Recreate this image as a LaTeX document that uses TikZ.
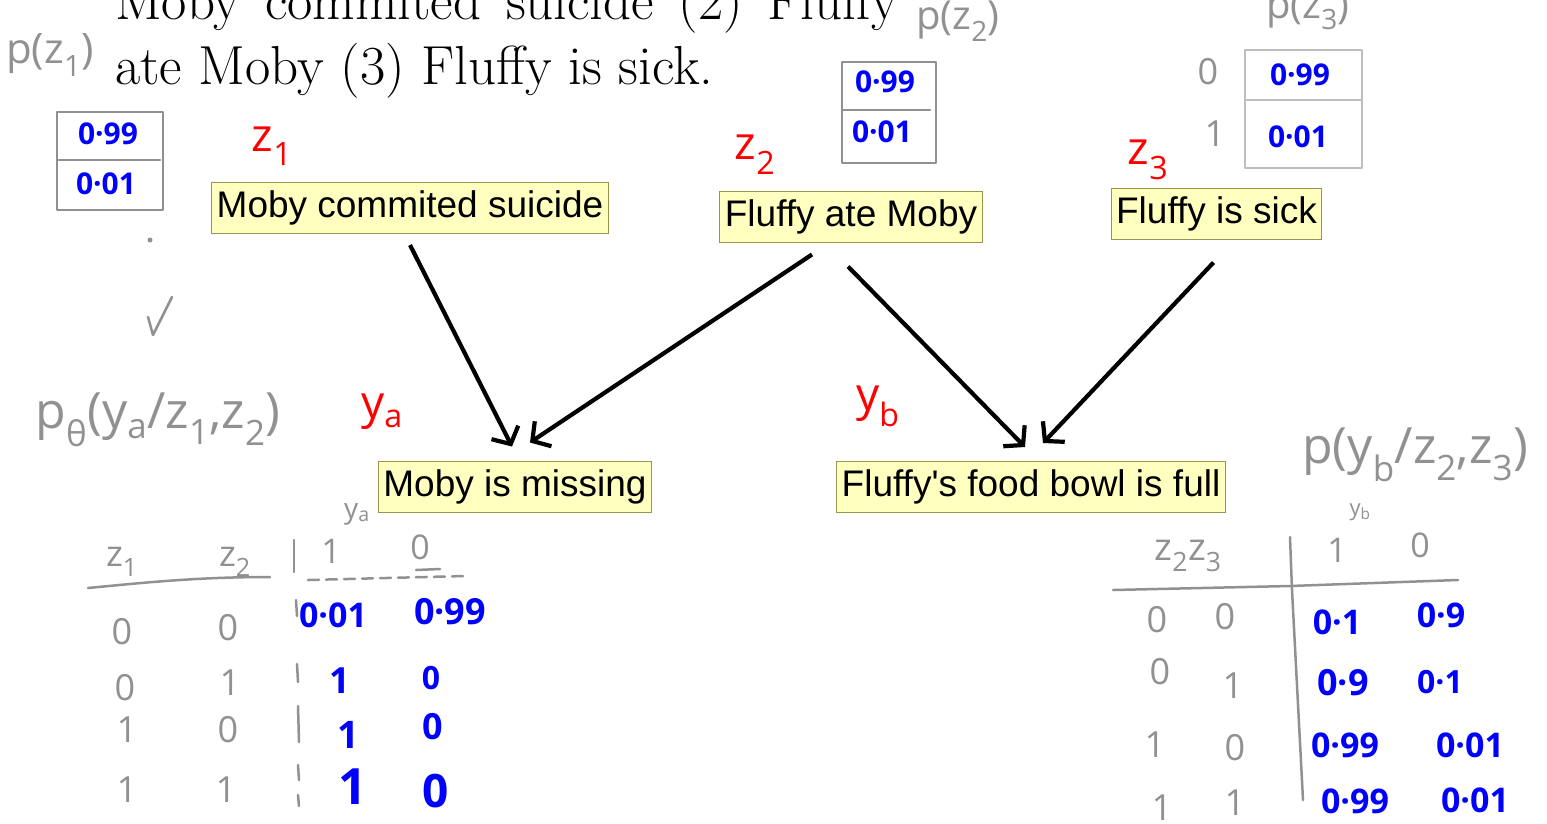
\documentclass[tikz,border=0pt]{standalone}
\usepackage{fontspec}
\newfontfamily\nodefont{Liberation Sans}
\newfontfamily\handfont{Open Sans}
\usetikzlibrary{arrows.meta,calc}
\definecolor{boxfill}{RGB}{255,255,192}
\definecolor{boxborder}{RGB}{150,150,80}
\definecolor{hgray}{RGB}{145,145,145}
\definecolor{lgray}{RGB}{190,190,190}
\definecolor{hblue}{RGB}{0,0,255}
\definecolor{hred}{RGB}{255,0,0}
\tikzset{
  concept/.style={draw=boxborder, fill=boxfill, line width=1pt,
    font=\nodefont\fontsize{37}{40}\selectfont, inner xsep=5pt, inner ysep=0pt,
    minimum height=51pt, text height=27pt, text depth=8pt},
  link/.style={line width=4.2pt, -{Straight Barb[length=13pt,width=30pt]}},
  hand/.style={text=hgray, inner sep=0pt, font=\handfont\fontsize{#1}{#1}\selectfont},
  hand/.default=36,
  bval/.style={text=hblue, inner sep=0pt, font=\handfont\bfseries\fontsize{#1}{#1}\selectfont},
  bval/.default=30,
  rlab/.style={text=hred, inner sep=0pt, font=\handfont\fontsize{46}{46}\selectfont},
  pen/.style={draw=hgray, line width=2.5pt, line cap=round, line join=round},
}
\begin{document}
\begin{tikzpicture}[x=1pt,y=-1pt]
\useasboundingbox (0,0) rectangle (1547,823);
\fill[white] (0,0) rectangle (1547,823);

% title text
\node[anchor=base west, inner sep=0pt, font=\fontsize{55}{55}\selectfont] (l1) at (115,19)
  {\makebox[783pt][s]{Moby commited suicide (2) Fluffy}};
\node[anchor=base west, inner sep=0pt, font=\fontsize{55}{55}\selectfont] (l2) at (115,84)
  {ate Moby (3) Fluffy is sick.};

% concept nodes
\node[concept] (mcs) at (410,208) {Moby commited suicide};
\node[concept] (fam) at (851,216.5) {Fluffy ate Moby};
\node[concept] (fis) at (1216.5,213.5) {Fluffy is sick};
\node[concept] (mim) at (515,486.5) {Moby is missing};
\node[concept] (ffb) at (1031,487) {Fluffy\textquotesingle s food bowl is full};

% arrows
\draw[link] ($(mcs.south)+(0,11)$) -- ($(mim.north)+(-3,-14)$);
\draw[link] ($(fam.south)+(-39,12)$) -- ($(mim.north)+(15,-18)$);
\draw[link] ($(fam.south)+(-3,24)$) -- ($(ffb.north)+(-6,-14)$);
\draw[link] ($(fis.south)+(-3,23)$) -- ($(ffb.north)+(12,-18)$);

% red labels
\node[rlab] (rz1) at (272,146) {z\textsubscript{1}};
\node[rlab] (rz2) at (755,155) {z\textsubscript{2}};
\node[rlab] (rz3) at (1148,160) {z\textsubscript{3}};
\node[rlab] (rya) at (382,412) {y\textsubscript{a}};
\node[rlab] (ryb) at (878,406) {y\textsubscript{b}};

% p(z1)
\node[hand=42] (pz1) at (50,55) {p(z\textsubscript{1})};
\draw[pen] (57,112) rectangle (163,210);
\draw[pen] (57,160) -- (160,160);
\node[bval] (z1a) at (108,134) {0·99};
\node[bval] (z1b) at (106,184) {0·01};
\fill[hgray] (150,240) circle (2.5);
\draw[pen] (172,297) -- (153,335) -- (148,317);

% p(z2)
\node[hand=40] (pz2) at (958,21) {p(z\textsubscript{2})};
\draw[pen] (842,62) rectangle (936,163);
\draw[pen] (842,110) -- (930,110);
\node[bval] (z2a) at (885,82) {0·99};
\node[bval] (z2b) at (882,132) {0·01};

% p(z3)
\node[hand=40] (pz3) at (1308,10) {p(z\textsubscript{3})};
\draw[pen, draw=lgray] (1245,50) rectangle (1362,168);
\draw[pen, draw=lgray] (1245,100) -- (1362,100);
\node[hand] (z3l0) at (1208,72) {0};
\node[hand] (z3l1) at (1215,134) {1};
\node[bval] (z3a) at (1300,75) {0·99};
\node[bval] (z3b) at (1298,137) {0·01};

% conditional for y_a
\node[hand=50] (pya) at (158,420) {p\textsubscript{θ}(y\textsubscript{a}/z\textsubscript{1},z\textsubscript{2})};
\node[hand=28] (yahead) at (357,514) {y\textsubscript{a}};
\node[hand] (az1) at (122,562) {z\textsubscript{1}};
\node[hand] (az2) at (235,562) {z\textsubscript{2}};
\node[hand=34] (ah1) at (331,551) {1};
\node[hand=34] (ah0) at (420,547) {0};
\draw[pen] (88,588) .. controls (150,582) and (200,577) .. (270,577);
\draw[pen] (294,540) -- (294,572);
\draw[pen, dash pattern=on 11pt off 7pt] (308,580) -- (465,576);
\draw[pen] (416,570) -- (440,569);
\draw[pen] (296,600) -- (297,616);
\draw[pen] (297,664) -- (298,682);
\draw[pen] (298,706) -- (299,742);
\draw[pen] (298,765) -- (299,780);
\draw[pen] (298,795) -- (299,806);
% rows
\node[hand] (a11) at (122,632) {0};
\node[hand] (a12) at (228,628) {0};
\node[hand] (a21) at (125,688) {0};
\node[hand] (a22) at (230,683) {1};
\node[hand] (a31) at (127,730) {1};
\node[hand] (a32) at (228,730) {0};
\node[hand] (a41) at (127,790) {1};
\node[hand] (a42) at (226,790) {1};
\node[bval=34] (av11) at (333,615) {0·01};
\node[bval=36] (av12) at (450,612) {0·99};
\node[bval=36] (av21) at (340,681) {1};
\node[bval=32] (av22) at (431,678) {0};
\node[bval=38] (av31) at (348,735) {1};
\node[bval=36] (av32) at (433,727) {0};
\node[bval=50] (av41) at (353,787) {1};
\node[bval=46] (av42) at (436,791) {0};

% conditional for y_b
\node[hand=50] (pyb) at (1415,455) {p(y\textsubscript{b}/z\textsubscript{2},z\textsubscript{3})};
\node[hand=22] (ybsmall) at (1360,512) {y\textsubscript{b}};
\node[hand=38] (bz) at (1188,556) {z\textsubscript{2}z\textsubscript{3}};
\node[hand=34] (bh1) at (1337,550) {1};
\node[hand=34] (bh0) at (1420,545) {0};
\draw[pen] (1290,537) -- (1292,590) -- (1303,800);
\draw[pen] (1113,590) -- (1290,586) -- (1458,580);
\node[hand] (b11) at (1157,620) {0};
\node[hand] (b12) at (1225,617) {0};
\node[hand] (b21) at (1160,672) {0};
\node[hand] (b22) at (1233,686) {1};
\node[hand] (b31) at (1155,745) {1};
\node[hand] (b32) at (1235,748) {0};
\node[hand] (b41) at (1162,808) {1};
\node[hand] (b42) at (1235,803) {1};
\node[bval=34] (bv11) at (1337,622) {0·1};
\node[bval=34] (bv12) at (1441,615) {0·9};
\node[bval=36] (bv21) at (1343,683) {0·9};
\node[bval=32] (bv22) at (1440,682) {0·1};
\node[bval=34] (bv31) at (1345,745) {0·99};
\node[bval=34] (bv32) at (1470,745) {0·01};
\node[bval=34] (bv41) at (1355,801) {0·99};
\node[bval=34] (bv42) at (1475,800) {0·01};
\end{tikzpicture}
\end{document}
